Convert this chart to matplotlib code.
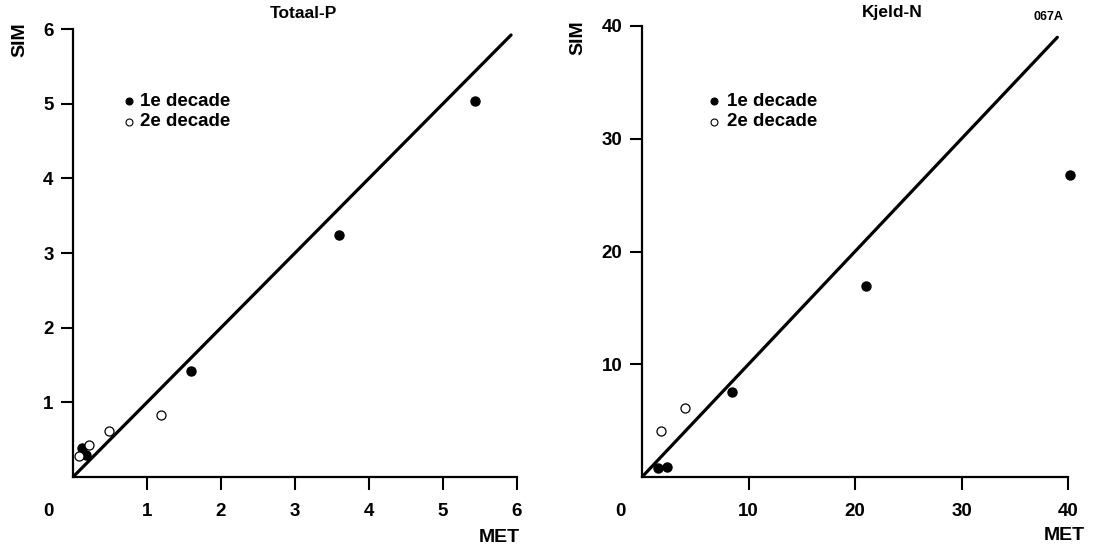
import matplotlib.pyplot as plt

plt.rcParams['font.family'] = ['Liberation Sans', 'DejaVu Sans']
plt.rcParams['font.weight'] = 'bold'

# Totaal-P, MET vs SIM
totp_met_1 = [0.12, 0.18, 1.60, 3.60, 5.43]
totp_sim_1 = [0.39, 0.30, 1.42, 3.24, 5.03]
totp_met_2 = [0.08, 0.22, 0.49, 1.19]
totp_sim_2 = [0.28, 0.43, 0.62, 0.83]
totp_ticks = [1, 2, 3, 4, 5, 6]
totp_line = [0, 5.92]

# Kjeld-N, MET vs SIM
kjn_met_1 = [1.5, 2.35, 8.45, 21.0, 40.2]
kjn_sim_1 = [0.8, 0.9, 7.5, 16.9, 26.8]
kjn_met_2 = [1.8, 4.0]
kjn_sim_2 = [4.1, 6.1]
kjn_ticks = [10, 20, 30, 40]
kjn_line = [0, 39.0]

W, H = 1095, 549
fig = plt.figure(figsize=(W / 100, H / 100), dpi=100)


def px(x, y):
    return x / W, 1 - y / H


def setup(ax, lim, ticks):
    ax.set_xlim(0, lim)
    ax.set_ylim(0, lim)
    for s in ['top', 'right']:
        ax.spines[s].set_visible(False)
    for s in ['left', 'bottom']:
        ax.spines[s].set_linewidth(1.6)
    ax.set_xticks(ticks)
    ax.set_yticks(ticks)
    ax.tick_params(axis='both', direction='out', length=9, width=1.5,
                   labelsize=13.5)
    ax.tick_params(axis='x', pad=10)
    ax.tick_params(axis='y', pad=5)


def panel(rect, lim, ticks, met1, sim1, met2, sim2, line):
    ax = fig.add_axes(rect)
    setup(ax, lim, ticks)
    ax.plot(line, line, color='black', lw=2.3, solid_capstyle='round')
    ax.plot(met1, sim1, 'o', color='black', ms=6.5, clip_on=False)
    ax.plot(met2, sim2, 'o', mfc='white', mec='black', mew=0.9, ms=6.5,
            clip_on=False)
    return ax


ax1 = panel([73 / W, 1 - 477 / H, 444 / W, 448 / H], 6, totp_ticks,
            totp_met_1, totp_sim_1, totp_met_2, totp_sim_2, totp_line)
ax2 = panel([642 / W, 1 - 477 / H, 426 / W, 451 / H], 40, kjn_ticks,
            kjn_met_1, kjn_sim_1, kjn_met_2, kjn_sim_2, kjn_line)

# legends drawn by hand
for mx, tx in [(129, 140), (714, 727)]:
    for yy, filled, lab in [(101, True, '1e decade'), (122, False, '2e decade')]:
        fx, fy = px(mx, yy)
        fig.lines.append(plt.Line2D([fx], [fy], marker='o', ms=5,
                                    mfc='black' if filled else 'white',
                                    mec='black', mew=0.8,
                                    transform=fig.transFigure))
        gx, gy = px(tx, yy)
        fig.text(gx, gy, lab, fontsize=13.5, ha='left', va='center')

fig.text(*px(303, 13), 'Totaal-P', fontsize=12.5, ha='center', va='center')
fig.text(*px(892, 13), 'Kjeld-N', fontsize=12.5, ha='center', va='center')
fig.text(*px(1048, 17), '067A', fontsize=9, ha='center', va='center')

fig.text(*px(20, 40), 'SIM', fontsize=14, rotation=90, ha='center', va='center')
fig.text(*px(578, 38), 'SIM', fontsize=14, rotation=90, ha='center', va='center')
fig.text(*px(499, 537), 'MET', fontsize=14, ha='center', va='center')
fig.text(*px(1064, 535), 'MET', fontsize=14, ha='center', va='center')

fig.text(*px(48, 512), '0', fontsize=13.5, ha='center', va='center')
fig.text(*px(620, 512), '0', fontsize=13.5, ha='center', va='center')

fig.savefig('out.png', dpi=100, facecolor='white')
